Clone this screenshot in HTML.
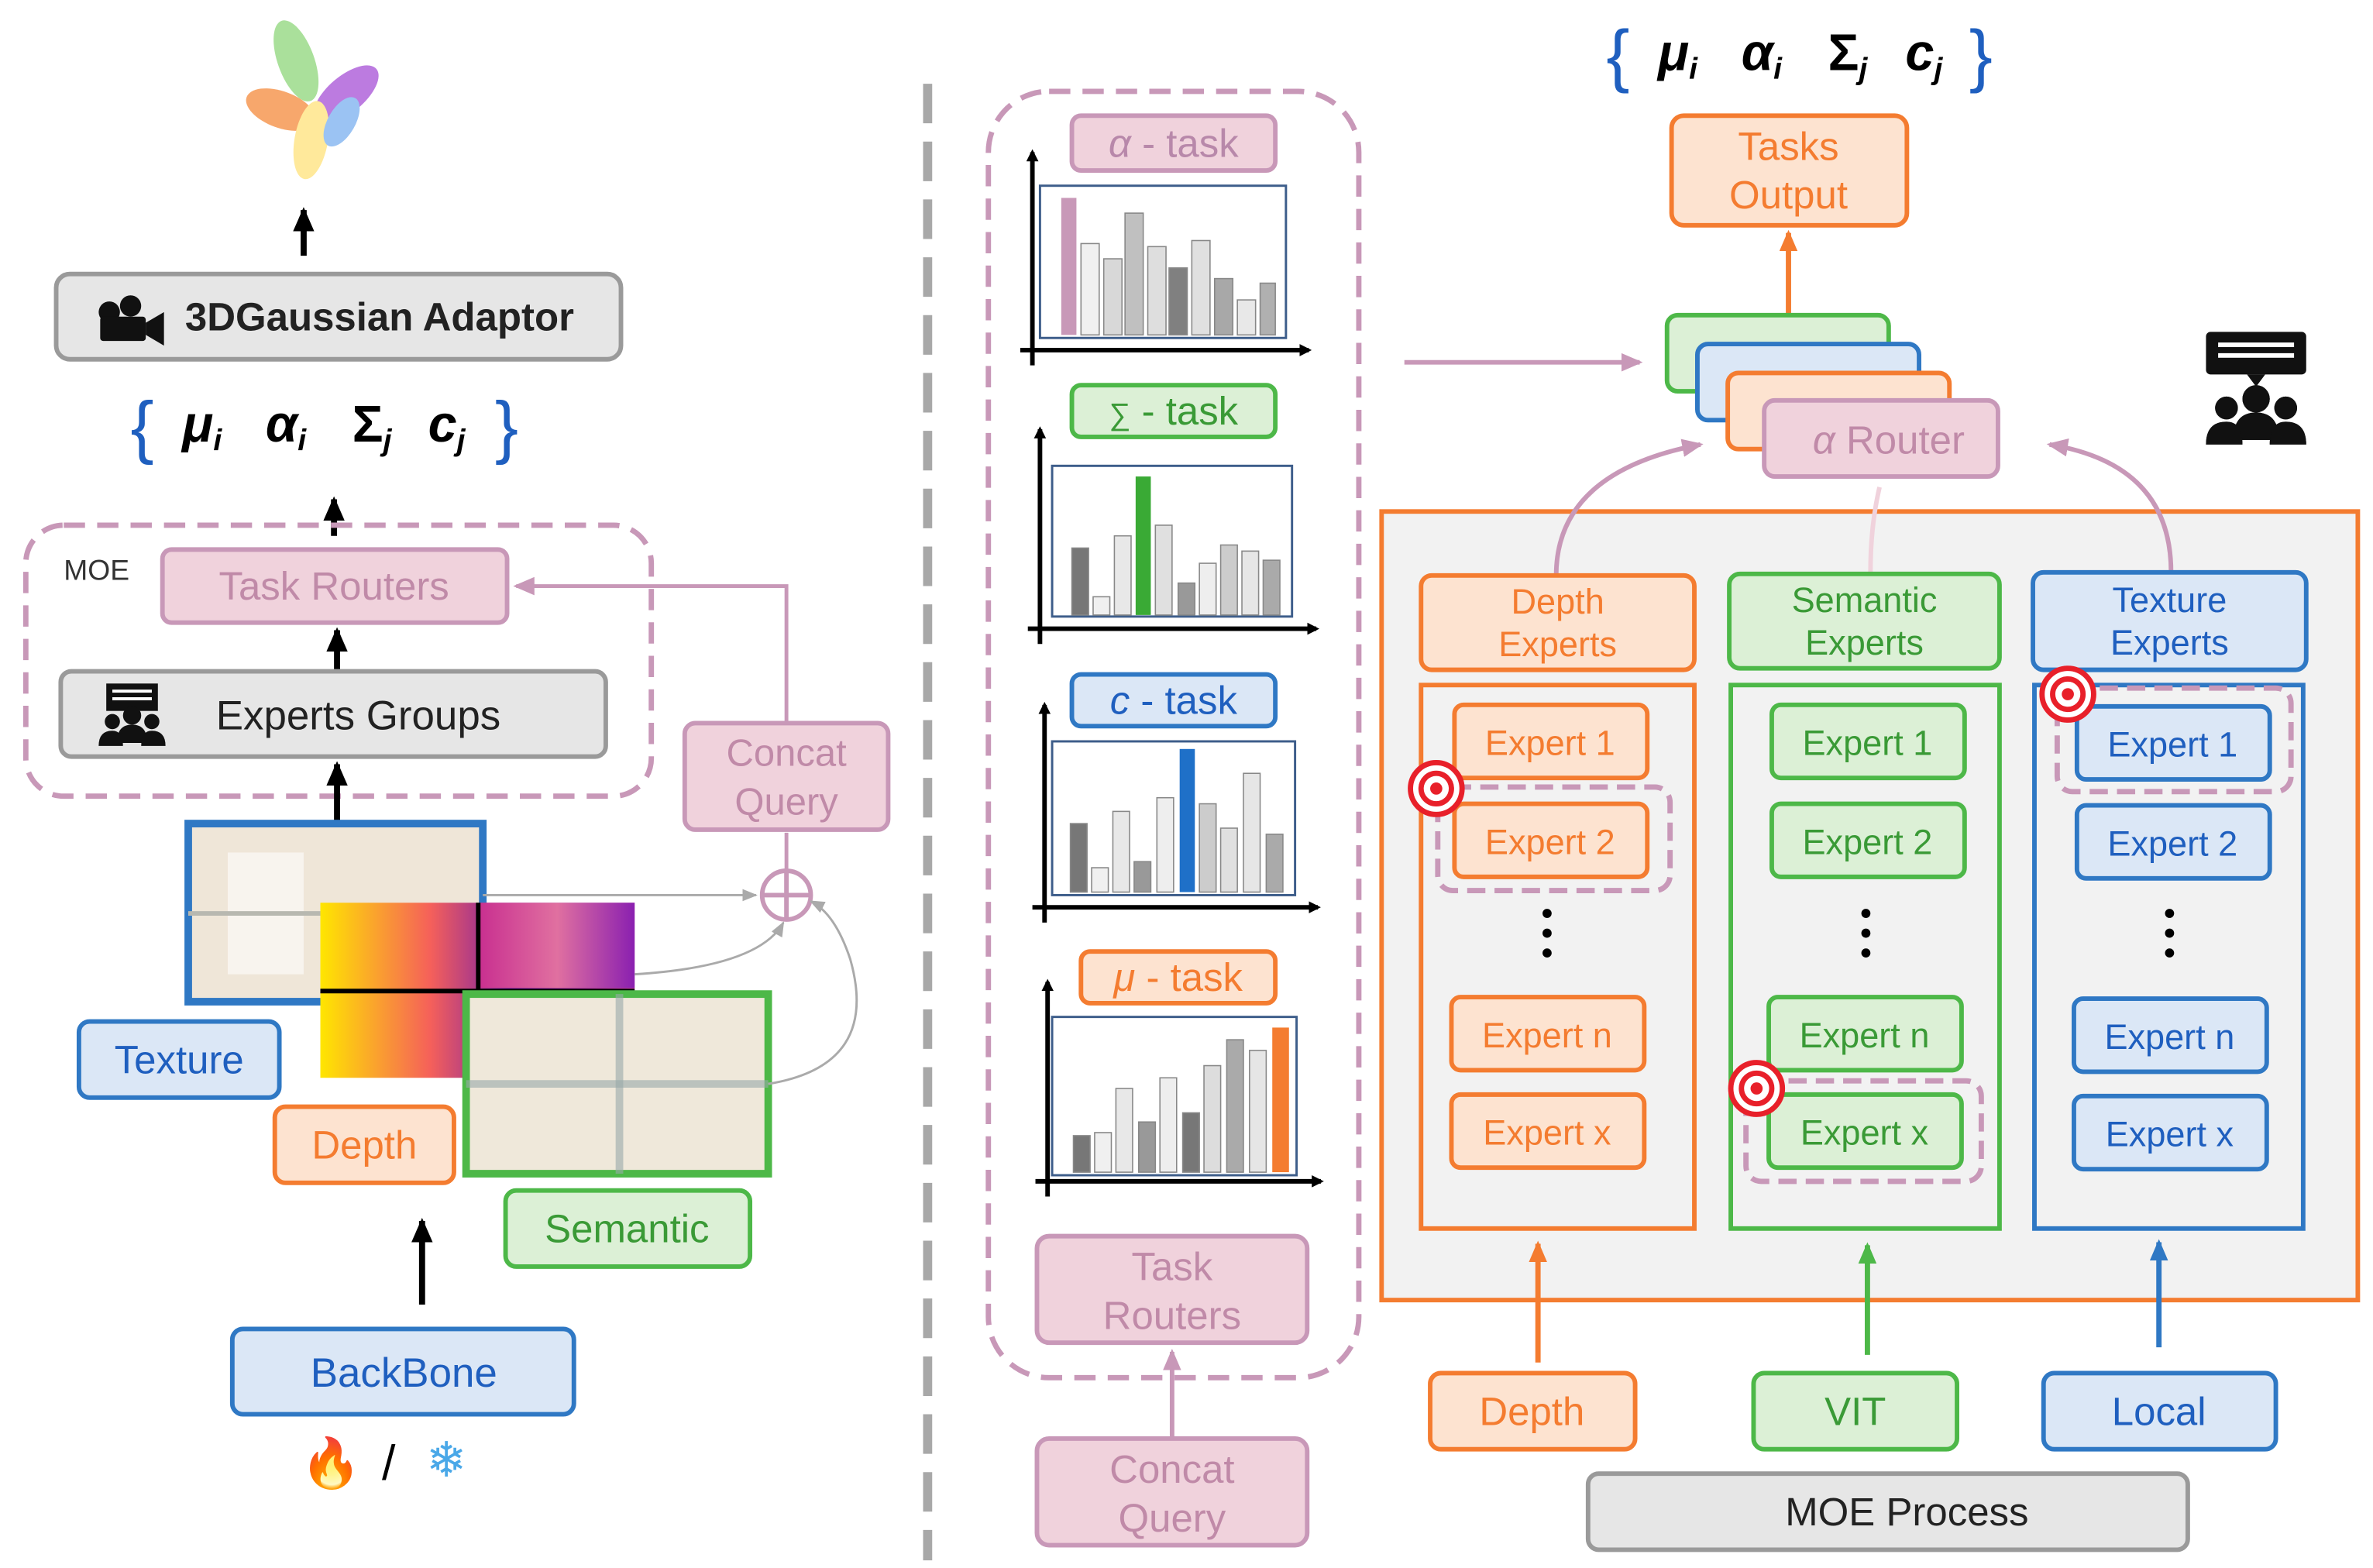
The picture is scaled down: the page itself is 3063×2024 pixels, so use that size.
<!DOCTYPE html>
<html><head><meta charset="utf-8"><style>
html,body{margin:0;padding:0;background:#fff;}
svg{display:block;}
text{font-family:"Liberation Sans","DejaVu Sans",sans-serif;}
</style></head><body>
<svg width="3063" height="2024" viewBox="0 0 1563 1030" preserveAspectRatio="none" xmlns="http://www.w3.org/2000/svg">
<defs>
<marker id="ab" markerWidth="8" markerHeight="8" refX="6" refY="4" orient="auto" markerUnits="userSpaceOnUse"><path d="M0,0 L8,4 L0,8 z" fill="#000"/></marker>
<marker id="ap" markerWidth="14" markerHeight="12" refX="12" refY="6" orient="auto" markerUnits="userSpaceOnUse"><path d="M0,0 L14,6 L0,12 z" fill="#c898b8"/></marker>
<marker id="ao" markerWidth="14" markerHeight="12" refX="12" refY="6" orient="auto" markerUnits="userSpaceOnUse"><path d="M0,0 L14,6 L0,12 z" fill="#f47c30"/></marker>
<marker id="ag" markerWidth="14" markerHeight="12" refX="12" refY="6" orient="auto" markerUnits="userSpaceOnUse"><path d="M0,0 L14,6 L0,12 z" fill="#4db848"/></marker>
<marker id="abl" markerWidth="14" markerHeight="12" refX="12" refY="6" orient="auto" markerUnits="userSpaceOnUse"><path d="M0,0 L14,6 L0,12 z" fill="#2f78c4"/></marker>
<marker id="ak" markerWidth="16" markerHeight="14" refX="14" refY="7" orient="auto" markerUnits="userSpaceOnUse"><path d="M0,0 L16,7 L0,14 z" fill="#000"/></marker>
<marker id="agr" markerWidth="10" markerHeight="8" refX="9" refY="4" orient="auto" markerUnits="userSpaceOnUse"><path d="M0,0 L10,4 L0,8 z" fill="#aaa"/></marker>
<linearGradient id="heat" x1="0" y1="0" x2="1" y2="0">
<stop offset="0" stop-color="#ffe600"/><stop offset="0.35" stop-color="#f5605a"/><stop offset="0.6" stop-color="#7a1fa8"/><stop offset="1" stop-color="#d040a0"/></linearGradient>
<linearGradient id="heat2" x1="0" y1="0" x2="1" y2="0">
<stop offset="0" stop-color="#c93090"/><stop offset="0.5" stop-color="#e070a0"/><stop offset="1" stop-color="#8a20b0"/></linearGradient>
<g id="ppl">
<circle cx="0" cy="-8" r="6"/><path d="M-10,10 Q-10,-2 0,-2 Q10,-2 10,10 z"/>
<circle cx="-13" cy="-4" r="5"/><path d="M-22,12 Q-22,2 -13,2 Q-6,2 -6,12 z"/>
<circle cx="13" cy="-4" r="5"/><path d="M22,12 Q22,2 13,2 Q6,2 6,12 z"/>
</g>
</defs>

<!-- flower logo -->
<g opacity="0.75">
<ellipse cx="195" cy="40" rx="12" ry="28" fill="#8ed67a" transform="rotate(-20 195 40)"/>
<ellipse cx="228" cy="62" rx="12" ry="26" fill="#a64fd6" transform="rotate(50 228 62)"/>
<ellipse cx="185" cy="72" rx="12" ry="24" fill="#f58a3c" transform="rotate(-70 185 72)"/>
<ellipse cx="205" cy="92" rx="11" ry="26" fill="#ffe27a" transform="rotate(10 205 92)"/>
<ellipse cx="225" cy="80" rx="9" ry="18" fill="#7ab0f0" transform="rotate(30 225 80)"/>
</g>
<line x1="200" y1="168" x2="200" y2="138" stroke="#000" stroke-width="4" marker-end="url(#ak)"/>

<!-- 3DGaussian -->
<rect x="37" y="180" width="372" height="56" rx="9" fill="#e6e6e6" stroke="#9a9a9a" stroke-width="3"/>
<g fill="#111"><circle cx="72" cy="205" r="7"/><circle cx="86" cy="201" r="7"/><rect x="66" y="208" width="30" height="16" rx="2"/><path d="M96,212 L108,205 L108,227 L96,220 z"/></g>
<text x="250" y="217" font-size="26" text-anchor="middle" font-weight="bold" fill="#222">3DGaussian Adaptor</text>

<!-- formula left -->
<g font-family="Liberation Serif" font-weight="bold" font-style="italic">
<text x="86" y="296" font-size="46" fill="#1f5fbf" font-style="normal" font-weight="normal">{</text>
<text x="120" y="290" font-size="34">μ<tspan font-size="20" dy="6">i</tspan></text>
<text x="175" y="290" font-size="34">α<tspan font-size="20" dy="6">i</tspan></text>
<text x="232" y="290" font-size="34" font-style="normal">Σ<tspan font-size="20" dy="6" font-style="italic">j</tspan></text>
<text x="282" y="290" font-size="34">c<tspan font-size="20" dy="6">j</tspan></text>
<text x="326" y="296" font-size="46" fill="#1f5fbf" font-style="normal" font-weight="normal">}</text>
</g>
<line x1="220" y1="352" x2="220" y2="328" stroke="#000" stroke-width="4" marker-end="url(#ak)"/>

<!-- MOE dashed -->
<rect x="17" y="345" width="412" height="178" rx="25" fill="none" stroke="#c898b8" stroke-width="3.5" stroke-dasharray="14 8"/>
<text x="42" y="381" font-size="19" fill="#333">MOE</text>
<rect x="107" y="361" width="227" height="48" rx="6" fill="#f0d2dc" stroke="#c898b8" stroke-width="3"/>
<text x="220" y="394" font-size="26" text-anchor="middle" fill="#c08aa8">Task Routers</text>
<line x1="222" y1="440" x2="222" y2="414" stroke="#000" stroke-width="4" marker-end="url(#ak)"/>
<rect x="40" y="441" width="359" height="56" rx="7" fill="#e6e6e6" stroke="#9a9a9a" stroke-width="3"/>
<rect x="70" y="449" width="34" height="18" fill="#111"/><rect x="74" y="453" width="26" height="2" fill="#fff"/><rect x="74" y="458" width="26" height="2" fill="#fff"/>
<use href="#ppl" x="87" y="478" fill="#111"/>
<text x="236" y="479" font-size="27" text-anchor="middle" fill="#222">Experts Groups</text>
<line x1="222" y1="540" x2="222" y2="502" stroke="#000" stroke-width="4" marker-end="url(#ak)"/>

<!-- concat query left -->
<rect x="451" y="475" width="134" height="70" rx="7" fill="#f0d2dc" stroke="#c898b8" stroke-width="3"/>
<text x="518" y="503" font-size="25" text-anchor="middle" fill="#c08aa8">Concat</text>
<text x="518" y="535" font-size="25" text-anchor="middle" fill="#c08aa8">Query</text>
<polyline points="518,475 518,385 340,385" fill="none" stroke="#c898b8" stroke-width="2.5" marker-end="url(#ap)"/>
<line x1="518" y1="572" x2="518" y2="547" stroke="#c898b8" stroke-width="2.5"/>
<circle cx="518" cy="588" r="16" fill="#fff" stroke="#c898b8" stroke-width="3"/>
<line x1="502" y1="588" x2="534" y2="588" stroke="#c898b8" stroke-width="3"/>
<line x1="518" y1="572" x2="518" y2="604" stroke="#c898b8" stroke-width="3"/>

<!-- images -->
<rect x="124" y="541" width="194" height="117" fill="#efe6d8" stroke="#2f78c4" stroke-width="5"/>
<rect x="150" y="560" width="50" height="80" fill="#f8f4ee"/>
<line x1="124" y1="600" x2="318" y2="600" stroke="#b8b8b0" stroke-width="3"/>
<rect x="211" y="593" width="207" height="115" fill="url(#heat)"/>
<rect x="316" y="593" width="102" height="56" fill="url(#heat2)"/>
<line x1="211" y1="651" x2="418" y2="651" stroke="#000" stroke-width="3"/>
<line x1="315" y1="593" x2="315" y2="708" stroke="#000" stroke-width="3"/>
<rect x="307" y="653" width="199" height="118" fill="#efe8da" stroke="#4db848" stroke-width="5"/>
<line x1="307" y1="712" x2="506" y2="712" stroke="#9aa" stroke-width="5" opacity="0.6"/>
<line x1="408" y1="653" x2="408" y2="771" stroke="#9aa" stroke-width="5" opacity="0.6"/>
<path d="M318,588 L498,588" stroke="#aaa" stroke-width="1.5" fill="none" marker-end="url(#agr)"/>
<path d="M418,640 Q500,635 516,606" stroke="#aaa" stroke-width="1.5" fill="none" marker-end="url(#agr)"/>
<path d="M506,712 Q580,700 560,630 Q550,600 534,592" stroke="#aaa" stroke-width="1.5" fill="none" marker-end="url(#agr)"/>

<rect x="52" y="671" width="132" height="50" rx="7" fill="#dbe7f6" stroke="#2f78c4" stroke-width="3"/>
<text x="118" y="705" font-size="26" text-anchor="middle" fill="#1f5fbf">Texture</text>
<rect x="181" y="727" width="118" height="50" rx="7" fill="#fde3d0" stroke="#f47c30" stroke-width="3"/>
<text x="240" y="761" font-size="26" text-anchor="middle" fill="#f47c30">Depth</text>
<rect x="333" y="782" width="161" height="50" rx="7" fill="#dcf0d6" stroke="#4db848" stroke-width="3"/>
<text x="413" y="816" font-size="26" text-anchor="middle" fill="#3a9a36">Semantic</text>
<line x1="278" y1="857" x2="278" y2="802" stroke="#000" stroke-width="4" marker-end="url(#ak)"/>
<rect x="153" y="873" width="225" height="56" rx="7" fill="#dbe7f6" stroke="#2f78c4" stroke-width="3"/>
<text x="266" y="911" font-size="27" text-anchor="middle" fill="#1f5fbf">BackBone</text>
<text x="218" y="972" font-size="32" text-anchor="middle" fill="#f06020">🔥</text>
<text x="256" y="972" font-size="32" text-anchor="middle">/</text>
<text x="294" y="970" font-size="32" text-anchor="middle" fill="#4aa8e8">❄</text>

<!-- divider -->
<line x1="611" y1="55" x2="611" y2="1025" stroke="#a8a8a8" stroke-width="6" stroke-dasharray="26 12"/>

<!-- middle -->
<rect x="651" y="60" width="244" height="845" rx="40" fill="none" stroke="#c898b8" stroke-width="3.5" stroke-dasharray="14 8"/>

<rect x="706" y="76" width="134" height="36" rx="6" fill="#f0d2dc" stroke="#c898b8" stroke-width="3"/>
<text x="773" y="103" font-size="26" text-anchor="middle" fill="#b888aa"><tspan font-style="italic">α</tspan> - task</text>
<line x1="680" y1="240" x2="680" y2="100" stroke="#000" stroke-width="3" marker-end="url(#ab)"/>
<line x1="672" y1="230" x2="862" y2="230" stroke="#000" stroke-width="3" marker-end="url(#ab)"/>
<rect x="685" y="122" width="162" height="100" fill="none" stroke="#3d5d8a" stroke-width="1.5"/>
<g stroke="#888" stroke-width="0.8">
<rect x="699" y="130" width="10" height="90" fill="#c898b8" stroke="none"/>
<rect x="712" y="160" width="12" height="60" fill="#f0f0f0"/>
<rect x="727" y="170" width="12" height="50" fill="#d8d8d8"/>
<rect x="741" y="140" width="12" height="80" fill="#c0c0c0"/>
<rect x="756" y="162" width="12" height="58" fill="#dedede"/>
<rect x="770" y="176" width="12" height="44" fill="#808080"/>
<rect x="785" y="158" width="12" height="62" fill="#e0e0e0"/>
<rect x="800" y="183" width="12" height="37" fill="#a8a8a8"/>
<rect x="815" y="197" width="12" height="23" fill="#e8e8e8"/>
<rect x="830" y="186" width="10" height="34" fill="#b0b0b0"/>
</g>

<rect x="706" y="253" width="134" height="34" rx="6" fill="#dcf0d6" stroke="#4db848" stroke-width="3"/>
<text x="773" y="279" font-size="26" text-anchor="middle" fill="#3a9a36"><tspan font-size="20">∑</tspan> - task</text>
<line x1="685" y1="423" x2="685" y2="282" stroke="#000" stroke-width="3" marker-end="url(#ab)"/>
<line x1="677" y1="413" x2="867" y2="413" stroke="#000" stroke-width="3" marker-end="url(#ab)"/>
<rect x="693" y="306" width="158" height="99" fill="none" stroke="#3d5d8a" stroke-width="1.5"/>
<g stroke="#888" stroke-width="0.8">
<rect x="706" y="360" width="11" height="44" fill="#777"/>
<rect x="720" y="392" width="11" height="12" fill="#f0f0f0"/>
<rect x="734" y="352" width="11" height="52" fill="#e8e8e8"/>
<rect x="748" y="313" width="10" height="91" fill="#3aaa35" stroke="none"/>
<rect x="761" y="345" width="11" height="59" fill="#e0e0e0"/>
<rect x="776" y="383" width="11" height="21" fill="#999"/>
<rect x="790" y="370" width="11" height="34" fill="#eee"/>
<rect x="804" y="358" width="11" height="46" fill="#ccc"/>
<rect x="818" y="362" width="11" height="42" fill="#e6e6e6"/>
<rect x="832" y="368" width="11" height="36" fill="#aaa"/>
</g>

<rect x="706" y="443" width="134" height="34" rx="6" fill="#dbe7f6" stroke="#2f78c4" stroke-width="3"/>
<text x="773" y="469" font-size="26" text-anchor="middle" fill="#1f5fbf"><tspan font-style="italic">c</tspan> - task</text>
<line x1="688" y1="606" x2="688" y2="463" stroke="#000" stroke-width="3" marker-end="url(#ab)"/>
<line x1="680" y1="596" x2="868" y2="596" stroke="#000" stroke-width="3" marker-end="url(#ab)"/>
<rect x="693" y="487" width="160" height="101" fill="none" stroke="#3d5d8a" stroke-width="1.5"/>
<g stroke="#888" stroke-width="0.8">
<rect x="705" y="541" width="11" height="45" fill="#777"/>
<rect x="719" y="570" width="11" height="16" fill="#f0f0f0"/>
<rect x="733" y="533" width="11" height="53" fill="#e8e8e8"/>
<rect x="747" y="566" width="11" height="20" fill="#999"/>
<rect x="762" y="524" width="11" height="62" fill="#eee"/>
<rect x="777" y="492" width="10" height="94" fill="#1f70c8" stroke="none"/>
<rect x="790" y="528" width="11" height="58" fill="#ccc"/>
<rect x="804" y="544" width="11" height="42" fill="#e0e0e0"/>
<rect x="819" y="508" width="11" height="78" fill="#e6e6e6"/>
<rect x="834" y="548" width="11" height="38" fill="#aaa"/>
</g>

<rect x="712" y="625" width="128" height="34" rx="6" fill="#fde3d0" stroke="#f47c30" stroke-width="3"/>
<text x="776" y="651" font-size="26" text-anchor="middle" fill="#f47c30"><tspan font-style="italic">μ</tspan> - task</text>
<line x1="690" y1="786" x2="690" y2="645" stroke="#000" stroke-width="3" marker-end="url(#ab)"/>
<line x1="682" y1="776" x2="870" y2="776" stroke="#000" stroke-width="3" marker-end="url(#ab)"/>
<rect x="693" y="668" width="161" height="104" fill="none" stroke="#3d5d8a" stroke-width="1.5"/>
<g stroke="#888" stroke-width="0.8">
<rect x="707" y="746" width="11" height="24" fill="#777"/>
<rect x="721" y="744" width="11" height="26" fill="#f0f0f0"/>
<rect x="735" y="715" width="11" height="55" fill="#e8e8e8"/>
<rect x="750" y="737" width="11" height="33" fill="#999"/>
<rect x="764" y="708" width="11" height="62" fill="#eee"/>
<rect x="779" y="731" width="11" height="39" fill="#777"/>
<rect x="793" y="700" width="11" height="70" fill="#ddd"/>
<rect x="808" y="683" width="11" height="87" fill="#aaa"/>
<rect x="823" y="690" width="11" height="80" fill="#e6e6e6"/>
<rect x="838" y="675" width="11" height="95" fill="#f47c30" stroke="none"/>
</g>

<rect x="683" y="812" width="178" height="70" rx="8" fill="#f0d2dc" stroke="#c898b8" stroke-width="3"/>
<text x="772" y="841" font-size="26" text-anchor="middle" fill="#c08aa8">Task</text>
<text x="772" y="873" font-size="26" text-anchor="middle" fill="#c08aa8">Routers</text>
<line x1="772" y1="945" x2="772" y2="888" stroke="#c898b8" stroke-width="3" marker-end="url(#ap)"/>
<rect x="683" y="945" width="178" height="70" rx="8" fill="#f0d2dc" stroke="#c898b8" stroke-width="3"/>
<text x="772" y="974" font-size="26" text-anchor="middle" fill="#c08aa8">Concat</text>
<text x="772" y="1006" font-size="26" text-anchor="middle" fill="#c08aa8">Query</text>

<!-- right formula -->
<g font-family="Liberation Serif" font-weight="bold" font-style="italic">
<text x="1058" y="52" font-size="46" fill="#1f5fbf" font-style="normal" font-weight="normal">{</text>
<text x="1092" y="46" font-size="34">μ<tspan font-size="20" dy="6">i</tspan></text>
<text x="1147" y="46" font-size="34">α<tspan font-size="20" dy="6">i</tspan></text>
<text x="1204" y="46" font-size="34" font-style="normal">Σ<tspan font-size="20" dy="6" font-style="italic">j</tspan></text>
<text x="1255" y="46" font-size="34">c<tspan font-size="20" dy="6">j</tspan></text>
<text x="1297" y="52" font-size="46" fill="#1f5fbf" font-style="normal" font-weight="normal">}</text>
</g>

<rect x="1101" y="76" width="155" height="72" rx="8" fill="#fde3d0" stroke="#f47c30" stroke-width="3"/>
<text x="1178" y="105" font-size="26" text-anchor="middle" fill="#f47c30">Tasks</text>
<text x="1178" y="137" font-size="26" text-anchor="middle" fill="#f47c30">Output</text>
<line x1="1178" y1="207" x2="1178" y2="153" stroke="#f47c30" stroke-width="3.5" marker-end="url(#ao)"/>

<line x1="925" y1="238" x2="1080" y2="238" stroke="#c898b8" stroke-width="3" marker-end="url(#ap)"/>
<rect x="1098" y="207" width="146" height="50" rx="7" fill="#dcf0d6" stroke="#4db848" stroke-width="3"/>
<rect x="1118" y="226" width="146" height="50" rx="7" fill="#dbe7f6" stroke="#2f78c4" stroke-width="3"/>
<rect x="1138" y="245" width="146" height="50" rx="7" fill="#fde3d0" stroke="#f47c30" stroke-width="3"/>
<rect x="1162" y="263" width="154" height="50" rx="7" fill="#f0d2dc" stroke="#c898b8" stroke-width="3"/>
<text x="1244" y="298" font-size="26" text-anchor="middle" fill="#c08aa8"><tspan font-style="italic">α</tspan> Router</text>

<!-- people/speech icon -->
<g fill="#111">
<rect x="1453" y="218" width="66" height="28" rx="3"/>
<path d="M1480,246 L1486,254 L1492,246 z"/>
<rect x="1461" y="225" width="50" height="3" fill="#fff"/><rect x="1461" y="232" width="50" height="3" fill="#fff"/>
<use href="#ppl" x="1486" y="274" transform="translate(-743 -137) scale(1.5)" transform-origin="0 0"/>
</g>
<g fill="#111" transform="translate(1486 274) scale(1.5)"><use href="#ppl"/></g>

<rect x="910" y="336" width="643" height="518" fill="#f2f2f2" stroke="#f47c30" stroke-width="3"/>

<path d="M1025,378 Q1025,310 1120,292" fill="none" stroke="#c898b8" stroke-width="3" marker-end="url(#ap)"/>
<path d="M1430,376 Q1430,305 1350,292" fill="none" stroke="#c898b8" stroke-width="3" marker-end="url(#ap)"/>
<path d="M1232,376 Q1232,345 1238,320" fill="none" stroke="#f0d2dc" stroke-width="3"/>

<rect x="936" y="378" width="180" height="62" rx="7" fill="#fde3d0" stroke="#f47c30" stroke-width="3"/>
<text x="1026" y="403" font-size="23" text-anchor="middle" fill="#f47c30">Depth</text>
<text x="1026" y="431" font-size="23" text-anchor="middle" fill="#f47c30">Experts</text>
<rect x="1139" y="377" width="178" height="62" rx="7" fill="#dcf0d6" stroke="#4db848" stroke-width="3"/>
<text x="1228" y="402" font-size="23" text-anchor="middle" fill="#3a9a36">Semantic</text>
<text x="1228" y="430" font-size="23" text-anchor="middle" fill="#3a9a36">Experts</text>
<rect x="1339" y="376" width="180" height="64" rx="7" fill="#dbe7f6" stroke="#2f78c4" stroke-width="3"/>
<text x="1429" y="402" font-size="23" text-anchor="middle" fill="#1f5fbf">Texture</text>
<text x="1429" y="430" font-size="23" text-anchor="middle" fill="#1f5fbf">Experts</text>

<rect x="936" y="450" width="180" height="357" fill="none" stroke="#f47c30" stroke-width="3"/>
<rect x="1140" y="450" width="177" height="357" fill="none" stroke="#4db848" stroke-width="3"/>
<rect x="1340" y="450" width="177" height="357" fill="none" stroke="#2f78c4" stroke-width="3"/>

<g font-size="23" text-anchor="middle" fill="#f47c30">
<rect x="958" y="463" width="127" height="48" rx="6" fill="#fde3d0" stroke="#f47c30" stroke-width="3"/><text x="1021" y="496">Expert 1</text>
<rect x="958" y="528" width="127" height="48" rx="6" fill="#fde3d0" stroke="#f47c30" stroke-width="3"/><text x="1021" y="561">Expert 2</text>
<rect x="956" y="655" width="127" height="48" rx="6" fill="#fde3d0" stroke="#f47c30" stroke-width="3"/><text x="1019" y="688">Expert n</text>
<rect x="956" y="719" width="127" height="48" rx="6" fill="#fde3d0" stroke="#f47c30" stroke-width="3"/><text x="1019" y="752">Expert x</text>
</g>
<g font-size="23" text-anchor="middle" fill="#3a9a36">
<rect x="1167" y="463" width="127" height="48" rx="6" fill="#dcf0d6" stroke="#4db848" stroke-width="3"/><text x="1230" y="496">Expert 1</text>
<rect x="1167" y="528" width="127" height="48" rx="6" fill="#dcf0d6" stroke="#4db848" stroke-width="3"/><text x="1230" y="561">Expert 2</text>
<rect x="1165" y="655" width="127" height="48" rx="6" fill="#dcf0d6" stroke="#4db848" stroke-width="3"/><text x="1228" y="688">Expert n</text>
<rect x="1165" y="719" width="127" height="48" rx="6" fill="#dcf0d6" stroke="#4db848" stroke-width="3"/><text x="1228" y="752">Expert x</text>
</g>
<g font-size="23" text-anchor="middle" fill="#1f5fbf">
<rect x="1368" y="464" width="127" height="48" rx="6" fill="#dbe7f6" stroke="#2f78c4" stroke-width="3"/><text x="1431" y="497">Expert 1</text>
<rect x="1368" y="529" width="127" height="48" rx="6" fill="#dbe7f6" stroke="#2f78c4" stroke-width="3"/><text x="1431" y="562">Expert 2</text>
<rect x="1366" y="656" width="127" height="48" rx="6" fill="#dbe7f6" stroke="#2f78c4" stroke-width="3"/><text x="1429" y="689">Expert n</text>
<rect x="1366" y="720" width="127" height="48" rx="6" fill="#dbe7f6" stroke="#2f78c4" stroke-width="3"/><text x="1429" y="753">Expert x</text>
</g>
<g fill="#000">
<circle cx="1019" cy="600" r="3"/><circle cx="1019" cy="613" r="3"/><circle cx="1019" cy="626" r="3"/>
<circle cx="1229" cy="600" r="3"/><circle cx="1229" cy="613" r="3"/><circle cx="1229" cy="626" r="3"/>
<circle cx="1429" cy="600" r="3"/><circle cx="1429" cy="613" r="3"/><circle cx="1429" cy="626" r="3"/>
</g>
<rect x="947" y="517" width="153" height="68" rx="10" fill="none" stroke="#c898b8" stroke-width="3.5" stroke-dasharray="12 6"/>
<rect x="1150" y="710" width="155" height="66" rx="10" fill="none" stroke="#c898b8" stroke-width="3.5" stroke-dasharray="12 6"/>
<rect x="1355" y="452" width="154" height="68" rx="10" fill="none" stroke="#c898b8" stroke-width="3.5" stroke-dasharray="12 6"/>
<g>
<circle cx="946" cy="518" r="17" fill="#fff" stroke="#e8202a" stroke-width="3.5"/><circle cx="946" cy="518" r="10" fill="none" stroke="#e8202a" stroke-width="3.5"/><circle cx="946" cy="518" r="4" fill="#e8202a"/>
<circle cx="1157" cy="715" r="17" fill="#fff" stroke="#e8202a" stroke-width="3.5"/><circle cx="1157" cy="715" r="10" fill="none" stroke="#e8202a" stroke-width="3.5"/><circle cx="1157" cy="715" r="4" fill="#e8202a"/>
<circle cx="1362" cy="456" r="17" fill="#fff" stroke="#e8202a" stroke-width="3.5"/><circle cx="1362" cy="456" r="10" fill="none" stroke="#e8202a" stroke-width="3.5"/><circle cx="1362" cy="456" r="4" fill="#e8202a"/>
</g>

<line x1="1013" y1="895" x2="1013" y2="817" stroke="#f47c30" stroke-width="3.5" marker-end="url(#ao)"/>
<line x1="1230" y1="890" x2="1230" y2="818" stroke="#4db848" stroke-width="3.5" marker-end="url(#ag)"/>
<line x1="1422" y1="885" x2="1422" y2="816" stroke="#2f78c4" stroke-width="3.5" marker-end="url(#abl)"/>

<rect x="942" y="902" width="135" height="50" rx="7" fill="#fde3d0" stroke="#f47c30" stroke-width="3"/>
<text x="1009" y="936" font-size="26" text-anchor="middle" fill="#f47c30">Depth</text>
<rect x="1155" y="902" width="134" height="50" rx="7" fill="#dcf0d6" stroke="#4db848" stroke-width="3"/>
<text x="1222" y="936" font-size="26" text-anchor="middle" fill="#3a9a36">VIT</text>
<rect x="1346" y="902" width="153" height="50" rx="7" fill="#dbe7f6" stroke="#2f78c4" stroke-width="3"/>
<text x="1422" y="936" font-size="26" text-anchor="middle" fill="#1f5fbf">Local</text>
<rect x="1046" y="968" width="395" height="50" rx="7" fill="#e6e6e6" stroke="#9a9a9a" stroke-width="3"/>
<text x="1256" y="1002" font-size="26" text-anchor="middle" fill="#222">MOE Process</text>
</svg>
</body></html>
